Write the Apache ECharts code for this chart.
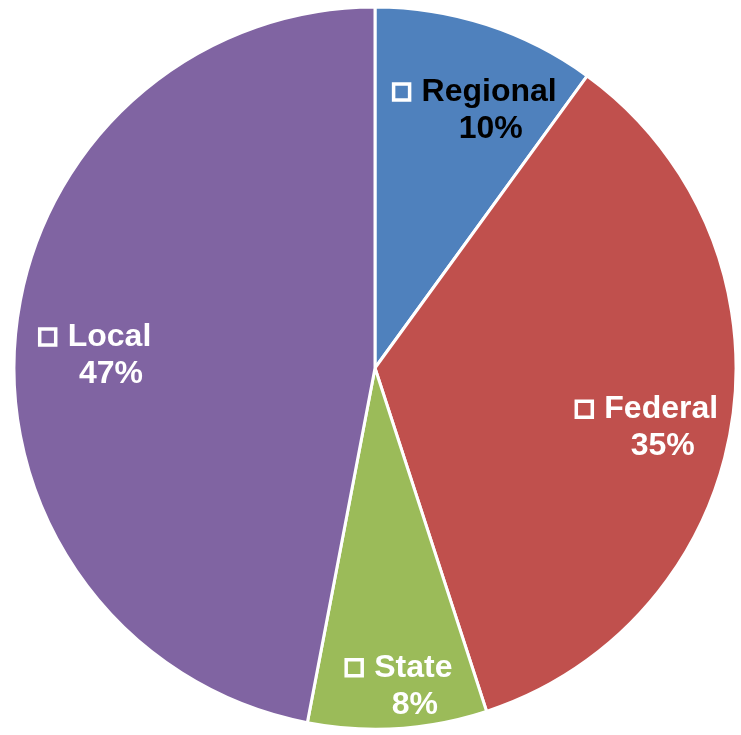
<!DOCTYPE html>
<html>
<head>
<meta charset="utf-8">
<script src="https://cdn.jsdelivr.net/npm/echarts@6/dist/echarts.min.js"></script>
<style>
  html, body { margin: 0; padding: 0; background: #fff; }
  #chart { width: 741px; height: 735px; }
</style>
</head>
<body>
<div id="chart"></div>
<script>
// 資料
const categories = ['Regional', 'Federal', 'State', 'Local'];
const shares = [10, 35, 8, 47];
const colors = ['#4F81BD', '#C0504D', '#9BBB59', '#8064A2'];
const labelColors = ['#000', '#fff', '#fff', '#fff'];

const chart = echarts.init(document.getElementById('chart'));

const R = 361;
const center = [375, 368];

const sliceData = categories.map((name, i) => ({
  name,
  value: shares[i],
  itemStyle: { color: colors[i] },
}));

const font = { fontSize: 32, fontWeight: 'bold', fontFamily: 'Liberation Sans, Arial', lineHeight: 37 };

// 標籤用透明圓環，讓標籤落在約 0.8R 的位置
const labelData = categories.map((name, i) => ({
  name,
  value: shares[i],
  label: {
    rich: {
      n: { ...font, color: labelColors[i] },
      p: { ...font, color: labelColors[i] },
      box: { width: 16, height: 16, borderColor: '#fff', borderWidth: 3.5 },
      sp: { width: 12 },
      pad: { width: 31 },
    },
  },
}));

// 標籤微調 (Excel 的 best fit 位置)
const nudge = [[10, 20], [-16, 14], [6, 27], [11, 15]];

const option = {
  animation: false,
  series: [
    {
      type: 'pie',
      center,
      radius: [0, R],
      startAngle: 90,
      silent: true,
      label: { show: false },
      labelLine: { show: false },
      itemStyle: { borderColor: '#fff', borderWidth: 3 },
      data: sliceData,
    },
    {
      type: 'pie',
      center,
      radius: [R * 0.6, R],
      startAngle: 90,
      silent: true,
      itemStyle: { color: 'rgba(0,0,0,0)', borderWidth: 0 },
      label: {
        show: true,
        position: 'inside',
        align: 'center',
        formatter: (p) => '{box|}{sp|}{n|' + p.name + '}\n{pad|}{p|' + p.value + '%}',
      },
      labelLayout: (p) => ({ dx: nudge[p.dataIndex][0], dy: nudge[p.dataIndex][1] }),
      labelLine: { show: false },
      data: labelData,
    },
  ],
};

chart.setOption(option);
</script>
</body>
</html>
